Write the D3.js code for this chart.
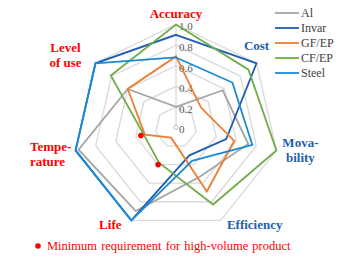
<!DOCTYPE html>
<head>
  <meta charset="utf-8">
  <style>
    body { margin: 0; background: #fff; }
    svg { display: block; font-family: "Liberation Serif", "Times New Roman", serif; }
    .axis-label { font-size: 13px; font-weight: bold; }
    .tick { font-size: 11px; fill: #595959; }
    .legend text { font-size: 12px; fill: #404040; }
  </style>
</head>
<body>
  <svg width="347" height="258"></svg>
  <script src="https://d3js.org/d3.v7.min.js"></script>
  <script>

  // data
  var axes = ["Accuracy", "Cost", "Movability", "Efficiency", "Life", "Temperature", "Level of use"];
  var seriesNames = ["Al", "Invar", "GF/EP", "CF/EP", "Steel"];
  var al    = [0.20, 0.58, 0.72, 0.53, 0.90, 0.97, 0.60];
  var invar = [0.90, 1.00, 0.50, 0.30, 1.00, 1.00, 1.00];
  var gfep  = [0.69, 0.31, 0.58, 0.69, 0.11, 0.31, 0.60];
  var cfep  = [1.00, 0.90, 1.00, 0.83, 0.38, 0.32, 0.81];
  var steel = [0.68, 0.70, 0.76, 0.36, 1.00, 1.00, 1.00];
  var minAxes = ["Temperature", "Life"];
  var minValues = [0.35, 0.40];
  var ticks = [0, 0.2, 0.4, 0.6, 0.8, 1.0];
  var minLabel = "Minimum requirement for high-volume product";

  var series = [al, invar, gfep, cfep, steel];
  var colors = ["#a5a5a5", "#1f5db3", "#ed7d31", "#70ad47", "#1a8ad6"];

  var svg = d3.select("svg"),
      cx = 176, cy = 127.5, R = 103;

  var r = d3.scaleLinear().domain([0, 1]).range([0, R]);
  var angle = d3.scalePoint().domain(axes).range([0, 2 * Math.PI * 6 / 7]);

  function pt(axis, v) {
    var a = angle(axis);
    return [cx + Math.sin(a) * r(v), cy - Math.cos(a) * r(v)];
  }

  var g = svg.append("g");

  // heptagon rings
  ticks.slice(1).forEach(function(t) {
    g.append("path")
      .attr("d", d3.line()(axes.map(function(a) { return pt(a, t); })) + "Z")
      .attr("fill", "none")
      .attr("stroke", "#d9d9d9")
      .attr("stroke-width", 1.3);
  });

  // value axis
  g.append("line")
    .attr("x1", cx).attr("y1", cy)
    .attr("x2", cx).attr("y2", cy - r(1))
    .attr("stroke", "#d9d9d9").attr("stroke-width", 1.3);
  g.append("circle")
    .attr("cx", cx).attr("cy", cy).attr("r", 2)
    .attr("fill", "#fff").attr("stroke", "#bfbfbf");

  g.selectAll(".tick").data(ticks).enter().append("text")
    .attr("class", "tick")
    .attr("x", cx + 3)
    .attr("y", function(d) { return cy - r(d) + 2; })
    .attr("dy", "0.35em")
    .text(function(d) { return d === 0 ? "0" : d.toFixed(1); });

  // series
  var line = d3.line();
  series.forEach(function(s, i) {
    g.append("path")
      .attr("d", line(axes.map(function(a, j) { return pt(a, s[j]); })) + "Z")
      .attr("fill", "none")
      .attr("stroke", colors[i])
      .attr("stroke-width", 1.8)
      .attr("stroke-linejoin", "miter");
  });

  // minimum requirement points
  g.selectAll(".minpt").data(minAxes).enter().append("circle")
    .attr("cx", function(d, i) { return pt(d, minValues[i])[0]; })
    .attr("cy", function(d, i) { return pt(d, minValues[i])[1]; })
    .attr("r", 2.8)
    .attr("fill", "#ff0000");

  // axis labels: offsets from outer vertex
  var labelLayout = {
    "Accuracy":     { lines: ["Accuracy"], dx: 0, dy: -11.5, anchor: "middle", color: "#ff0000" },
    "Cost":         { lines: ["Cost"], dx: 0, dy: -18, anchor: "middle", color: "#1f5fae" },
    "Movability":   { lines: ["Mova-", "bility"], dx: 24, dy: 0, anchor: "middle", color: "#1f5fae" },
    "Efficiency":   { lines: ["Efficiency"], dx: 34, dy: 4, anchor: "middle", color: "#1f5fae" },
    "Life":         { lines: ["Life"], dx: -21, dy: 4, anchor: "middle", color: "#ff0000" },
    "Temperature":  { lines: ["Tempe-", "rature"], dx: -45.6, dy: 3.6, anchor: "start", color: "#ff0000" },
    "Level of use": { lines: ["Level", "of use"], dx: -30, dy: -8, anchor: "middle", color: "#ff0000" }
  };

  axes.forEach(function(a) {
    var p = pt(a, 1), L = labelLayout[a];
    var t = svg.append("text")
      .attr("class", "axis-label")
      .attr("fill", L.color)
      .attr("text-anchor", L.anchor);
    var lh = 15, y0 = p[1] + L.dy - (L.lines.length - 1) * lh / 2;
    L.lines.forEach(function(s, k) {
      t.append("tspan")
        .attr("x", p[0] + L.dx)
        .attr("y", y0 + k * lh)
        .attr("dy", "0.35em")
        .text(s);
    });
  });

  // legend
  var legend = svg.append("g").attr("class", "legend")
    .attr("transform", "translate(275,13)");
  var item = legend.selectAll("g").data(seriesNames).enter().append("g")
    .attr("transform", function(d, i) { return "translate(0," + i * 15 + ")"; });
  item.append("line")
    .attr("x1", 0).attr("x2", 24)
    .attr("stroke", function(d, i) { return colors[i]; })
    .attr("stroke-width", 1.8);
  item.append("text")
    .attr("x", 26).attr("dy", "0.35em")
    .text(function(d) { return d; });

  // bottom note
  svg.append("circle").attr("cx", 38).attr("cy", 246).attr("r", 2.8).attr("fill", "#ff0000");
  svg.append("text")
    .attr("x", 47).attr("y", 246).attr("dy", "0.35em")
    .attr("font-size", 12.5)
    .attr("fill", "#ff0000")
    .attr("word-spacing", 1)
    .text(minLabel);

  </script>
</body>
</html>
